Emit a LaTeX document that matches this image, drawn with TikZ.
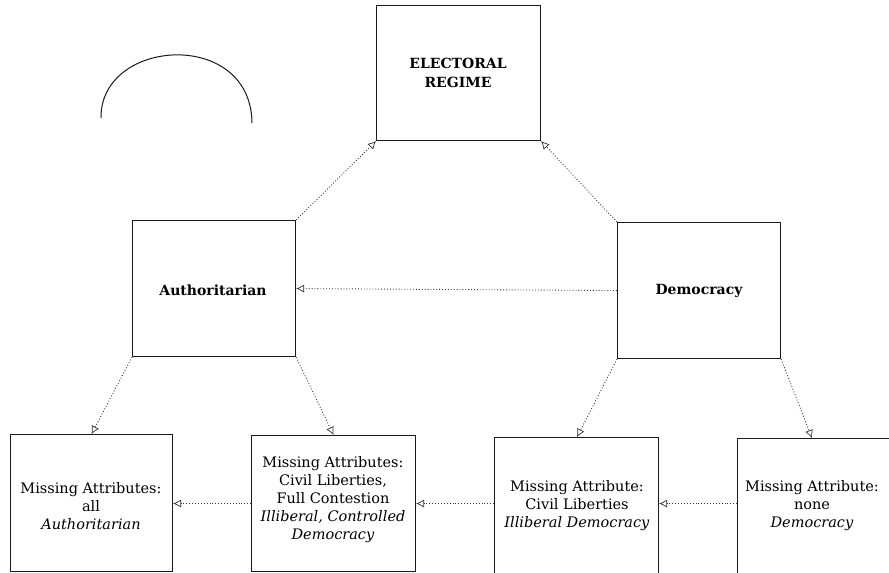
\documentclass[tikz,border=0pt]{standalone}
\usepackage{fontspec}
\setmainfont{DejaVu Serif}
\usetikzlibrary{arrows.meta}

\tikzset{
  box/.style={draw=black!90, line width=1.1pt, rectangle, anchor=north west, inner sep=0pt},
  head/.style={font=\fontsize{14}{19}\selectfont\bfseries, align=center, inner sep=0pt},
  body/.style={font=\fontsize{14.5}{18}\selectfont, align=center, inner sep=0pt},
  conn/.style={draw=black!80, line width=0.9pt, dotted,
    -{Latex[open, length=8pt, width=8pt, line width=0.7pt]}},
}

\begin{document}
\begin{tikzpicture}[x=1pt, y=-1pt]
  \useasboundingbox (0,0) rectangle (889,573);

  % top level
  \node[box, minimum width=164pt, minimum height=135pt] (elect) at (376,5) {};
  \node[head] (electt) at (458,73) {ELECTORAL\\REGIME};

  % second level
  \node[box, minimum width=163pt, minimum height=136pt] (auth) at (132,220) {};
  \node[head] (autht) at (213,290) {Authoritarian};
  \node[box, minimum width=163pt, minimum height=136pt] (demo) at (617,222) {};
  \node[head] (demot) at (699,291) {Democracy};

  % bottom level
  \node[box, minimum width=162pt, minimum height=137pt] (b1) at (10,434) {};
  \node[body] (b1t) at (91,506) {Missing Attributes:\\all\\\textit{Authoritarian}};
  \node[box, minimum width=164pt, minimum height=136pt] (b2) at (251,435) {};
  \node[body] (b2t) at (333,500) {Missing Attributes:\\Civil Liberties,\\Full Contestion\\\textit{Illiberal, Controlled}\\\textit{Democracy}};
  \node[box, minimum width=164pt, minimum height=160pt] (b3) at (494,437) {};
  \node[body] (b3t) at (577,506) {Missing Attribute:\\Civil Liberties\\\textit{Illiberal Democracy}};
  \node[box, minimum width=160pt, minimum height=160pt] (b4) at (737,438) {};
  \node[body] (b4t) at (812,506) {Missing Attribute:\\none\\\textit{Democracy}};

  % loose arc
  \draw[black!90, line width=1pt] (101,118) .. controls (100,38) and (251,28) .. (252,123);

  % connectors
  \draw[conn] (auth.north east) -- (elect.south west);
  \draw[conn] (demo.north west) -- (elect.south east);
  \draw[conn] (demo.west) -- (auth.east);
  \draw[conn] (auth.south west) -- (b1.north);
  \draw[conn] (auth.south east) -- (b2.north);
  \draw[conn] (demo.south west) -- (b3.north -| b3t.north);
  \draw[conn] (demo.south east) -- (b4.north -| b4t.north);
  \draw[conn] (b2.west) -- (b1.east |- b2.west);
  \draw[conn] (b3.west |- b2.east) -- (b2.east);
  \draw[conn] (b4.west |- b2.east) -- (b3.east |- b2.east);
\end{tikzpicture}
\end{document}
